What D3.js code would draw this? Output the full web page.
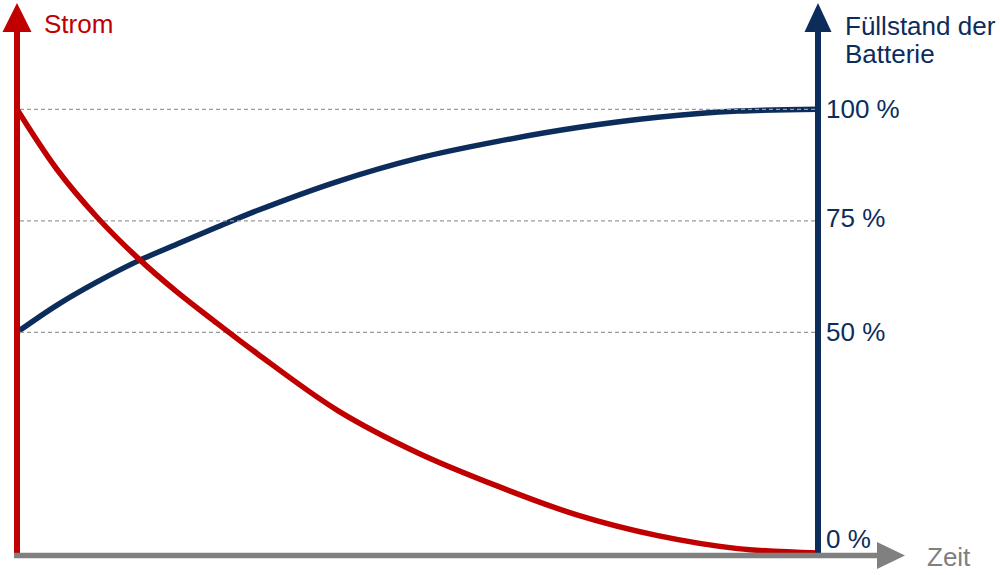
<!DOCTYPE html>
<html>
<head>
<meta charset="utf-8">
<script src="https://cdn.jsdelivr.net/npm/d3@7"></script>
<style>
  html, body { margin: 0; padding: 0; background: #fff; }
  svg { display: block; font-family: "Liberation Sans", Arial, sans-serif; }
</style>
</head>
<body>
<svg id="chart" width="1000" height="575"></svg>
<script>
// ---- data ----
const zeit       = [0, 5, 10, 15, 20, 25, 30, 40, 50, 60, 70, 80, 90, 100];
const strom      = [100, 86.5, 75.8, 66.8, 59, 52, 45.2, 32.5, 23, 15.5, 9, 4.4, 1.5, 0.5];
const fuellstand = [50, 56.1, 61.3, 65.9, 69.8, 73.6, 77.3, 83.8, 89.0, 92.8, 95.9, 98.2, 99.6, 100];
const gridValues = [100, 75, 50];
const tickValues = [100, 75, 50, 0];
const tickLabels = ["100 %", "75 %", "50 %", "0 %"];

const RED = "#c00000", NAVY = "#0c2d5c", GRAY = "#808080";

const svg = d3.select("#chart");
const x = d3.scaleLinear().domain([0, 100]).range([17, 818]);
const y = d3.scaleLinear().domain([0, 100]).range([555.3, 109.3]);

const line = (vals) => d3.line()
  .x((d, i) => x(zeit[i]))
  .y(d => y(d))
  .curve(d3.curveCatmullRom.alpha(0.5))(vals);

// battery level curve
svg.append("path")
  .attr("d", line(fuellstand))
  .attr("fill", "none")
  .attr("stroke", NAVY)
  .attr("stroke-width", 5.5)
  .attr("stroke-linecap", "round");

// gridlines
svg.append("g").selectAll("line").data(gridValues).join("line")
  .attr("x1", 20).attr("x2", 815)
  .attr("y1", d => y(d)).attr("y2", d => y(d))
  .attr("stroke", "#9a9a9a")
  .attr("stroke-width", 1.2)
  .attr("stroke-dasharray", "4,3");

// current curve
svg.append("path")
  .attr("d", line(strom))
  .attr("fill", "none")
  .attr("stroke", RED)
  .attr("stroke-width", 5.5)
  .attr("stroke-linecap", "round");

// left axis (Strom)
const yTop = 32;
svg.append("line")
  .attr("x1", x(0)).attr("x2", x(0))
  .attr("y1", y(0)).attr("y2", yTop)
  .attr("stroke", RED).attr("stroke-width", 6);
svg.append("path")
  .attr("d", `M${x(0)-14.5},${yTop} L${x(0)},3 L${x(0)+14.5},${yTop} Z`)
  .attr("fill", RED);
svg.append("text")
  .attr("x", 44).attr("y", 33)
  .attr("font-size", 26).attr("fill", RED)
  .text("Strom");

// right axis (Füllstand)
svg.append("line")
  .attr("x1", x(100)).attr("x2", x(100))
  .attr("y1", y(0)).attr("y2", yTop)
  .attr("stroke", NAVY).attr("stroke-width", 6);
svg.append("path")
  .attr("d", `M${x(100)-13.5},${yTop} L${x(100)},3 L${x(100)+13.5},${yTop} Z`)
  .attr("fill", NAVY);
const ttl = svg.append("text")
  .attr("x", 845).attr("y", 35)
  .attr("font-size", 26).attr("fill", NAVY);
ttl.append("tspan").attr("x", 845).attr("y", 35).text("Füllstand der");
ttl.append("tspan").attr("x", 845).attr("y", 63).text("Batterie");

const axisR = d3.axisRight(y)
  .tickValues(tickValues)
  .tickFormat((d, i) => tickLabels[i])
  .tickSize(0)
  .tickPadding(8);
const gR = svg.append("g")
  .attr("transform", `translate(${x(100)},0)`)
  .call(axisR);
gR.select(".domain").remove();
gR.selectAll("text")
  .attr("font-size", 26)
  .attr("font-family", "Liberation Sans, Arial, sans-serif")
  .attr("fill", NAVY);
gR.selectAll(".tick").filter(d => d === 75).select("text").attr("y", -3);
gR.selectAll(".tick").filter(d => d === 0).select("text").attr("y", -16);

// bottom axis (Zeit)
const yB = 555.5;
svg.append("line")
  .attr("x1", 14).attr("x2", 878)
  .attr("y1", yB).attr("y2", yB)
  .attr("stroke", GRAY).attr("stroke-width", 5.5);
svg.append("path")
  .attr("d", `M877,542 L905,${yB} L877,569 Z`)
  .attr("fill", GRAY);
svg.append("text")
  .attr("x", 927).attr("y", 566)
  .attr("font-size", 26).attr("fill", GRAY)
  .text("Zeit");
</script>
</body>
</html>
